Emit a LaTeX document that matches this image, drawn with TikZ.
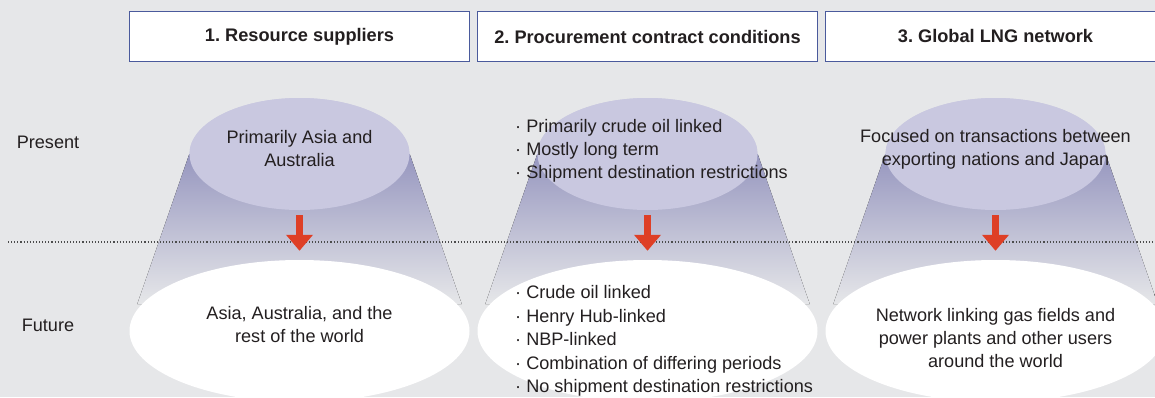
\documentclass[tikz,border=0pt]{standalone}
\usepackage{fontspec}
\setmainfont{Liberation Sans}
\usetikzlibrary{shapes.geometric,arrows.meta,calc}
\definecolor{bggray}{HTML}{E6E7E9}
\definecolor{boxblue}{HTML}{4A5A9C}
\definecolor{nowlilac}{HTML}{C9C8E0}
\definecolor{conetop}{HTML}{9696BF}
\definecolor{arrowred}{HTML}{DE3F26}
\definecolor{ink}{HTML}{231F20}
\tikzset{
	header/.style={draw=boxblue,line width=1.2pt,fill=white,minimum width=340pt,minimum height=50pt,inner sep=0pt,font=\fontsize{18.2}{21}\selectfont\bfseries,text=ink},
	nowoval/.style={ellipse,fill=nowlilac,minimum width=220pt,minimum height=112pt,inner sep=0pt},
	lateroval/.style={ellipse,fill=white,minimum width=340pt,minimum height=142pt,inner sep=0pt},
	txt/.style={font=\fontsize{18.1}{23}\selectfont,text=ink,align=center,inner sep=0pt},
	cone/.style={top color=conetop,middle color=conetop!80!bggray,bottom color=bggray},
	flow/.style={draw=arrowred,line width=7pt,-{Triangle[width=26pt,length=16pt]},shorten <=5pt,shorten >=9pt},
	rule/.style={draw=black!70,line width=1.1pt,dash pattern=on 1.1pt off 2pt}
}
\begin{document}
\frenchspacing
\begin{tikzpicture}[x=1pt,y=-1pt]
	\clip (0,0) rectangle (1155,397);
	\fill[bggray] (0,0) rectangle (1155,397);
	\node[header](h1) at (299.5,36.5) {1. Resource suppliers};
	\node[header](h2) at (647.5,36.5) {2. Procurement contract conditions};
	\node[header](h3) at (995.5,36.5) {3. Global LNG network};
	\node[nowoval](n1) at (299.5,154) {};
	\node[nowoval](n2) at (647.5,154) {};
	\node[nowoval](n3) at (995.5,154) {};
	\fill[cone] (n1.west) -- (n1.east) -- ++(52,150) -- ($(n1.west)+(-52,150)$) -- cycle;
	\fill[cone] (n2.west) -- (n2.east) -- ++(52,150) -- ($(n2.west)+(-52,150)$) -- cycle;
	\fill[cone] (n3.west) -- (n3.east) -- ++(52,150) -- ($(n3.west)+(-52,150)$) -- cycle;
	\node[nowoval] at (n1) {};
	\node[nowoval] at (n2) {};
	\node[nowoval] at (n3) {};
	\node[lateroval](f1) at (299.5,331) {};
	\node[lateroval](f2) at (647.5,331) {};
	\node[lateroval](f3) at (995.5,331) {};
	\coordinate (d0) at (8,242);
	\coordinate (d1) at (1155,242);
	\draw[rule] (d0) -- (d1);
	\draw[flow] (n1) -- (f1);
	\draw[flow] (n2) -- (f2);
	\draw[flow] (n3) -- (f3);
	\node[txt](p) at (48,142) {Present};
	\node[txt](q) at (48,325) {Future};
	\node[txt](a) at (299.5,149) {Primarily Asia and\\Australia};
	\node[txt,align=left,anchor=west](b) at (515,150.5) {· Primarily crude oil linked\\· Mostly long term\\· Shipment destination restrictions};
	\node[txt](c) at (995.5,149) {Focused on transactions between\\exporting nations and Japan};
	\node[txt](d) at (299.5,324.5) {Asia, Australia, and the\\rest of the world};
	\node[txt,align=left,anchor=west,font=\fontsize{18.1}{23.5}\selectfont](e) at (515,341) {· Crude oil linked\\· Henry Hub-linked\\· NBP-linked\\· Combination of differing periods\\· No shipment destination restrictions};
	\node[txt](g) at (995.5,338) {Network linking gas fields and\\power plants and other users\\around the world};
\end{tikzpicture}
\end{document}
